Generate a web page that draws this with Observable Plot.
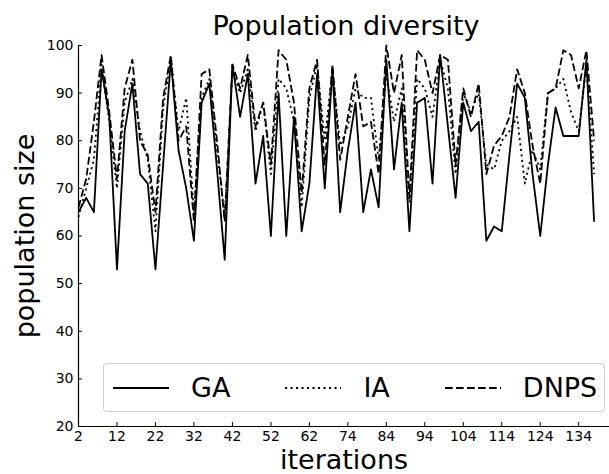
<!DOCTYPE html>
<html>
<head>
<meta charset="utf-8">
<script src="https://cdn.jsdelivr.net/npm/d3@7"></script>
<script src="https://cdn.jsdelivr.net/npm/@observablehq/plot@0.6"></script>
<style>
  body { margin: 0; background: #fff; font-family: "DejaVu Sans", sans-serif; }
  #wrap { position: relative; width: 609px; height: 474px; overflow: hidden; background: #fff; }
  #title { position: absolute; left: 78px; width: 536px; top: 12px; height: 27px; line-height: 27px;
           font-size: 27px; text-align: center; white-space: nowrap; color: #000; }
  #chart { position: absolute; left: 0; top: 40px; }
  #legend { position: absolute; left: 103px; top: 363px; width: 502px; height: 49px; box-sizing: border-box;
            border: 1px solid rgba(204,204,204,0.9); border-radius: 4px; background: rgba(255,255,255,0.8);
            display: flex; align-items: center; padding-left: 9px; }
  .item { display: flex; align-items: center; margin-right: 55px; }
  .item svg { display: block; }
  .item span { font-size: 27px; line-height: 27px; margin-left: 22px; color: #000; }
</style>
</head>
<body>
<div id="wrap">
  <div id="title">Population diversity</div>
  <div id="chart"></div>
  <div id="legend"></div>
</div>
<script>
// Series values (one point every step, index = position on the x axis)
const GA = [65, 68, 65, 95, 85, 53, 82, 92, 73, 71, 53, 75, 97, 78, 70, 59, 88, 92, 74, 55,
            96, 85, 94, 71, 81, 60, 90, 60, 85, 61, 71, 94, 70, 95, 65, 78, 88, 65, 74, 66,
            97, 74, 88, 61, 88, 89, 71, 98, 83, 68, 88, 82, 84, 59, 62, 61, 77, 92, 89, 73,
            60, 75, 87, 81, 81, 81, 97, 63];
const IA = [64, 70, 76, 96, 84, 70, 88, 93, 82, 76, 61, 87, 97, 82, 89, 65, 89, 93, 78, 64,
            95, 90, 95, 82, 88, 73, 93, 91, 84, 66, 89, 96, 80, 95, 79, 83, 91, 89, 89, 76,
            94, 84, 91, 67, 93, 91, 85, 97, 91, 73, 90, 86, 90, 75, 74, 80, 82, 85, 71, 78,
            74, 90, 91, 93, 86, 82, 96, 73];
const DNPS = [66, 72, 84, 98, 86, 72, 91, 97, 80, 77, 65, 89, 98, 80, 83, 63, 94, 95, 80, 63,
              96, 91, 98, 83, 88, 75, 99, 97, 88, 69, 91, 97, 75, 96, 76, 85, 94, 83, 84, 73,
              100, 90, 98, 68, 99, 97, 90, 98, 97, 75, 91, 85, 92, 73, 79, 81, 85, 95, 90, 79,
              71, 90, 91, 99, 98, 91, 99, 80];
const seriesNames = ["GA", "IA", "DNPS"];
const xTickLabels = ["2", "12", "22", "32", "42", "52", "62", "74", "84", "94", "104", "114", "124", "134"];
const yTicks = [20, 30, 40, 50, 60, 70, 80, 90, 100];

const xTickPos = xTickLabels.map((_, i) => i * 5);
const styles = {
  GA:   {dash: null},
  IA:   {dash: "2.1,3.4"},
  DNPS: {dash: "7.7,3.3"}
};
const LW = 1.8;

const chart = Plot.plot({
  width: 609,
  height: 434,
  marginLeft: 78,
  marginRight: 0,
  marginTop: 5,
  marginBottom: 48,
  style: {fontFamily: "DejaVu Sans", fontSize: "14px", color: "#000", background: "transparent", overflow: "visible"},
  x: {domain: [0, 69], label: null},
  y: {domain: [20, 100], label: null},
  marks: [
    Plot.lineY(GA, {stroke: "#000", strokeWidth: LW, strokeLinecap: "butt", strokeLinejoin: "round"}),
    Plot.lineY(IA, {stroke: "#000", strokeWidth: LW, strokeDasharray: styles.IA.dash, strokeLinecap: "butt", strokeLinejoin: "round"}),
    Plot.lineY(DNPS, {stroke: "#000", strokeWidth: LW, strokeDasharray: styles.DNPS.dash, strokeLinecap: "butt", strokeLinejoin: "round"}),
    Plot.ruleX([0], {stroke: "#000", strokeWidth: 1.2}),
    Plot.ruleY([20], {stroke: "#000", strokeWidth: 1.2}),
    Plot.axisX({ticks: xTickPos, tickFormat: d => xTickLabels[xTickPos.indexOf(d)], tickSize: -4, tickPadding: 9, label: null, stroke: "#000", fill: "#000"}),
    Plot.axisY({ticks: yTicks, tickSize: -4, tickPadding: 9, label: null, stroke: "#000", fill: "#000"}),
    Plot.text(["population size"], {text: d => d, frameAnchor: "left", textAnchor: "middle", lineAnchor: "middle", rotate: -90, dx: -53, fontSize: 27, fill: "#000"}),
    Plot.text(["iterations"], {text: d => d, frameAnchor: "bottom", textAnchor: "middle", lineAnchor: "middle", dy: 34, fontSize: 27, fill: "#000"})
  ]
});
document.getElementById("chart").appendChild(chart);

// Legend (inside the axes, lower part)
const legend = document.getElementById("legend");
seriesNames.forEach(name => {
  const item = document.createElement("div");
  item.className = "item";
  const dash = styles[name].dash;
  item.innerHTML = `<svg width="56" height="10"><line x1="0" x2="56" y1="5" y2="5" stroke="#000" stroke-width="${LW}" ${dash ? `stroke-dasharray="${dash}"` : ""}/></svg><span>${name}</span>`;
  legend.appendChild(item);
});
</script>
</body>
</html>
